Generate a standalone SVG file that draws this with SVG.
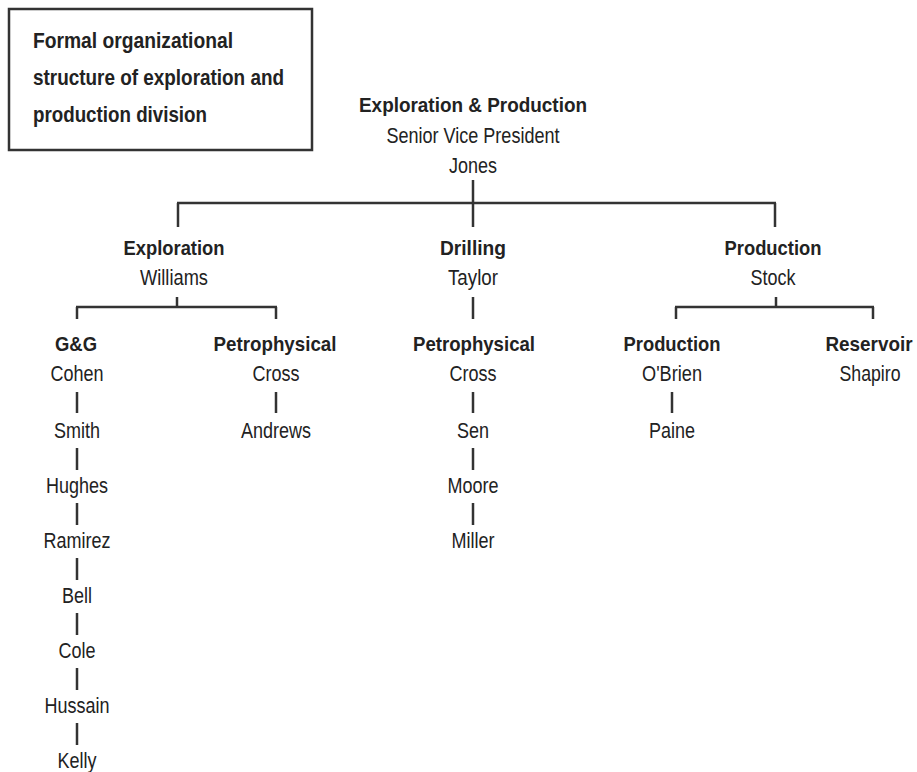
<svg xmlns="http://www.w3.org/2000/svg" width="917" height="772" viewBox="0 0 917 772">
<style>
text{font-family:"Liberation Sans",Arial,sans-serif;fill:#222;}
.t{font-size:22px;font-weight:bold;}
.h{font-size:21px;font-weight:bold;text-anchor:middle;}
.n{font-size:22px;text-anchor:middle;}
.c line{stroke:#333;stroke-width:2.5;}
</style>
<rect width="917" height="772" fill="#fff"/>
<g id="title">
<rect x="9" y="9" width="303" height="141" fill="none" stroke="#333" stroke-width="2.5"/>
<text class="t" x="33" y="48" textLength="200" lengthAdjust="spacingAndGlyphs">Formal organizational</text>
<text class="t" x="33" y="85" textLength="251" lengthAdjust="spacingAndGlyphs">structure of exploration and</text>
<text class="t" x="33" y="122" textLength="174" lengthAdjust="spacingAndGlyphs">production division</text>
</g>
<g class="c" id="connectors">
<line x1="473" y1="180" x2="473" y2="227"/>
<line x1="177" y1="203" x2="776" y2="203"/>
<line x1="178" y1="203" x2="178" y2="227"/>
<line x1="775" y1="203" x2="775" y2="227"/>
<line x1="177" y1="297" x2="177" y2="307"/>
<line x1="76" y1="307" x2="277" y2="307"/>
<line x1="77" y1="307" x2="77" y2="319"/>
<line x1="276" y1="307" x2="276" y2="319"/>
<line x1="473" y1="297" x2="473" y2="319"/>
<line x1="776" y1="297" x2="776" y2="307"/>
<line x1="675" y1="307" x2="874" y2="307"/>
<line x1="676" y1="307" x2="676" y2="319"/>
<line x1="873" y1="307" x2="873" y2="319"/>
<line x1="77" y1="392" x2="77" y2="413"/>
<line x1="77" y1="448" x2="77" y2="470"/>
<line x1="77" y1="503" x2="77" y2="525"/>
<line x1="77" y1="558" x2="77" y2="580"/>
<line x1="77" y1="613" x2="77" y2="635"/>
<line x1="77" y1="668" x2="77" y2="690"/>
<line x1="77" y1="723" x2="77" y2="745"/>
<line x1="276" y1="392" x2="276" y2="413"/>
<line x1="473" y1="392" x2="473" y2="413"/>
<line x1="473" y1="448" x2="473" y2="470"/>
<line x1="473" y1="503" x2="473" y2="525"/>
<line x1="672" y1="392" x2="672" y2="413"/>
</g>
<g id="ep">
<text class="h" x="473" y="112" textLength="228" lengthAdjust="spacingAndGlyphs">Exploration &amp; Production</text>
<text class="n" x="473" y="143" textLength="173" lengthAdjust="spacingAndGlyphs">Senior Vice President</text>
<text class="n" x="473" y="173" textLength="48" lengthAdjust="spacingAndGlyphs">Jones</text>
</g>
<g id="exploration">
<text class="h" x="174" y="255" textLength="101" lengthAdjust="spacingAndGlyphs">Exploration</text>
<text class="n" x="174" y="285" textLength="68" lengthAdjust="spacingAndGlyphs">Williams</text>
</g>
<g id="drilling">
<text class="h" x="473" y="255" textLength="66" lengthAdjust="spacingAndGlyphs">Drilling</text>
<text class="n" x="473" y="285" textLength="50" lengthAdjust="spacingAndGlyphs">Taylor</text>
</g>
<g id="production">
<text class="h" x="773" y="255" textLength="97" lengthAdjust="spacingAndGlyphs">Production</text>
<text class="n" x="773" y="285" textLength="45" lengthAdjust="spacingAndGlyphs">Stock</text>
</g>
<g id="gg">
<text class="h" x="76" y="351" textLength="42" lengthAdjust="spacingAndGlyphs">G&amp;G</text>
<text class="n" x="77" y="381" textLength="53" lengthAdjust="spacingAndGlyphs">Cohen</text>
<text class="n" x="77" y="438" textLength="46" lengthAdjust="spacingAndGlyphs">Smith</text>
<text class="n" x="77" y="493" textLength="62" lengthAdjust="spacingAndGlyphs">Hughes</text>
<text class="n" x="77" y="548" textLength="67" lengthAdjust="spacingAndGlyphs">Ramirez</text>
<text class="n" x="77" y="603" textLength="30" lengthAdjust="spacingAndGlyphs">Bell</text>
<text class="n" x="77" y="658" textLength="37" lengthAdjust="spacingAndGlyphs">Cole</text>
<text class="n" x="77" y="713" textLength="65" lengthAdjust="spacingAndGlyphs">Hussain</text>
<text class="n" x="77" y="768" textLength="39" lengthAdjust="spacingAndGlyphs">Kelly</text>
</g>
<g id="petro1">
<text class="h" x="275" y="351" textLength="123" lengthAdjust="spacingAndGlyphs">Petrophysical</text>
<text class="n" x="276" y="381" textLength="47" lengthAdjust="spacingAndGlyphs">Cross</text>
<text class="n" x="276" y="438" textLength="70" lengthAdjust="spacingAndGlyphs">Andrews</text>
</g>
<g id="petro2">
<text class="h" x="474" y="351" textLength="122" lengthAdjust="spacingAndGlyphs">Petrophysical</text>
<text class="n" x="473" y="381" textLength="47" lengthAdjust="spacingAndGlyphs">Cross</text>
<text class="n" x="473" y="438" textLength="32" lengthAdjust="spacingAndGlyphs">Sen</text>
<text class="n" x="473" y="493" textLength="51" lengthAdjust="spacingAndGlyphs">Moore</text>
<text class="n" x="473" y="548" textLength="43" lengthAdjust="spacingAndGlyphs">Miller</text>
</g>
<g id="prod2">
<text class="h" x="672" y="351" textLength="97" lengthAdjust="spacingAndGlyphs">Production</text>
<text class="n" x="672" y="381" textLength="60" lengthAdjust="spacingAndGlyphs">O'Brien</text>
<text class="n" x="672" y="438" textLength="46" lengthAdjust="spacingAndGlyphs">Paine</text>
</g>
<g id="reservoir">
<text class="h" transform="translate(869 351) scale(0.9 1)" x="0" y="0">Reservoir</text>
<text class="n" x="870" y="381" textLength="61" lengthAdjust="spacingAndGlyphs">Shapiro</text>
</g>
</svg>
